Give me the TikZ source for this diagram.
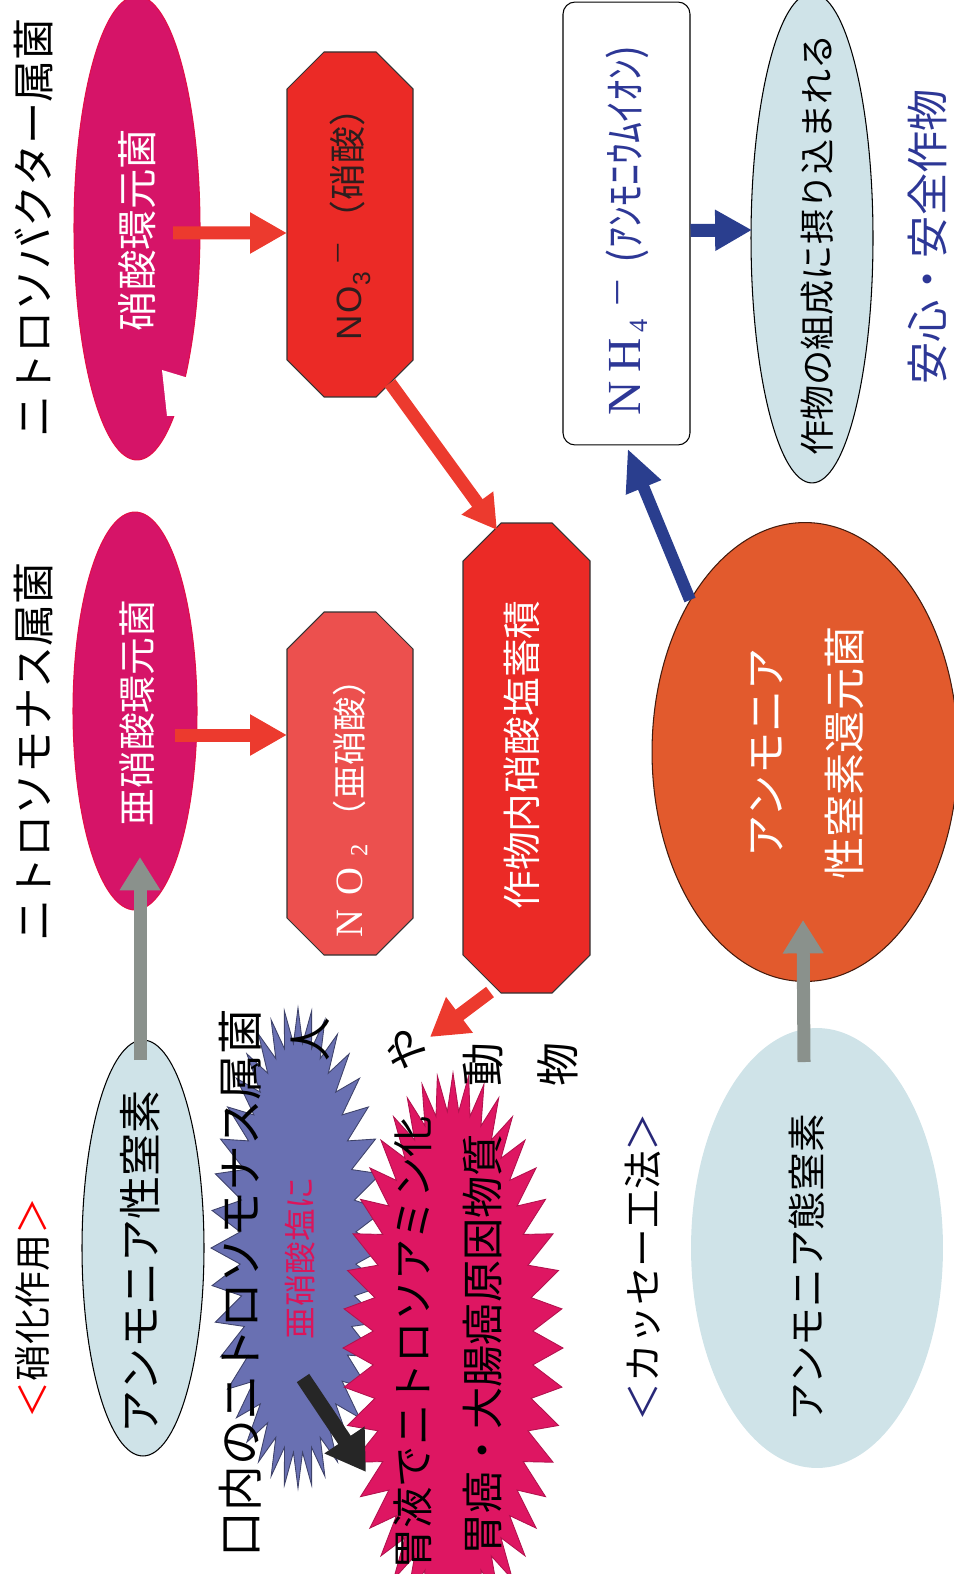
\documentclass[tikz,border=0pt]{standalone}
\usepackage{fontspec}
\setmainfont{Noto Sans CJK JP}
\newfontfamily\lsans{Liberation Sans}
\newfontfamily\lserif{Liberation Serif}
\usetikzlibrary{shapes.geometric,arrows.meta,calc}
\newcommand\fsz[1]{\fontsize{#1pt}{#1pt}\selectfont}
\definecolor{mag}{RGB}{214,20,104}
\definecolor{redbox}{RGB}{235,42,38}
\definecolor{nobox}{RGB}{236,80,78}
\definecolor{orangeE}{RGB}{226,90,45}
\definecolor{lblue}{RGB}{207,227,232}
\definecolor{burstblue}{RGB}{105,112,178}
\definecolor{burstmag}{RGB}{222,22,98}
\definecolor{arrred}{RGB}{236,58,46}
\definecolor{arrblue}{RGB}{42,62,142}
\definecolor{arrgray}{RGB}{138,145,140}
\definecolor{txtblue}{RGB}{45,55,150}
\definecolor{crimson}{RGB}{220,20,90}
\definecolor{navy}{RGB}{40,40,120}
\definecolor{darktxt}{RGB}{45,30,30}
\begin{document}
\begin{tikzpicture}[x=0.02cm,y=-0.02cm,
  rtext/.style={rotate=90,inner sep=0pt},
  ell/.style={ellipse,rotate=90,inner sep=0pt,line width=0.6pt},
  anchorbox/.style={rectangle,rotate=90,inner sep=0pt},
  oct/.style={line width=0.6pt,draw=black!80},
  arr/.style={line width=7.4pt,-{Triangle[length=21pt,width=22pt]}},
  redarr/.style={arr,draw=arrred},
  bluearr/.style={arr,draw=arrblue},
  grayarr/.style={line width=7.4pt,draw=arrgray,-{Triangle[length=19pt,width=22pt]}},
  blackarr/.style={line width=8.5pt,draw=black!85,-{Triangle[length=22pt,width=26pt]}},
]
\useasboundingbox (0,0) rectangle (953,1574);

% ---------- ellipses ----------
\node[ell,fill=mag,draw=mag!70!red,minimum width=9.28cm,minimum height=2.52cm] (enitrate) at (137,228) {};
\fill[white] (195,380) -- (162,370) -- (167,416) -- (185,416) -- cycle;
\node[ell,fill=mag,draw=mag!70!red,minimum width=7.96cm,minimum height=2.48cm] (enitrite) at (135,711) {};
\node[ell,fill=lblue,draw=black,minimum width=8.32cm,minimum height=2.44cm] (eamm) at (143,1248) {};
\node[ell,fill=lblue,minimum width=8.8cm,minimum height=5.04cm] (eammT) at (817,1248) {};
\node[ell,fill=orangeE,draw=black!70!orangeE,minimum width=9.18cm,minimum height=6.12cm] (eorange) at (805,752) {};
\node[ell,fill=lblue,draw=black,minimum width=9.8cm,minimum height=2.44cm] (ecrop) at (812,238) {};
\node[rectangle,rotate=90,draw=black,line width=0.6pt,fill=white,rounded corners=0.24cm,minimum width=8.86cm,minimum height=2.54cm] (nh4) at (626.5,223.5) {};

% ---------- octagon boxes ----------
\filldraw[oct,fill=redbox] (324,52) -- (376,52) -- (413,89) -- (413,360) -- (376,397) -- (324,397) -- (287,360) -- (287,89) -- cycle;
\node[anchorbox,minimum width=6.9cm,minimum height=2.52cm] (no3) at (350,224.5) {};
\filldraw[oct,fill=nobox] (324,612) -- (376,612) -- (413,649) -- (413,918) -- (376,955) -- (324,955) -- (287,918) -- (287,649) -- cycle;
\node[anchorbox,minimum width=6.86cm,minimum height=2.52cm] (no2) at (350,783.5) {};
\filldraw[oct,fill=redbox] (501,523) -- (552,523) -- (590,561) -- (590,955) -- (552,993) -- (501,993) -- (463,955) -- (463,561) -- cycle;
\node[anchorbox,minimum width=9.4cm,minimum height=2.54cm] (accum) at (526.5,758) {};

% ---------- starbursts ----------
\coordinate (bburst) at (298,1248);
\coordinate (mburst) at (453,1348);
\begin{scope}[shift={(298,1248)}]
\filldraw[fill=burstblue,draw=burstblue!60!black,line width=0.5pt]
  (87,0) \foreach \i in {1,...,40} { -- ({58*cos(\i*9-4.5)},{205*sin(\i*9-4.5)}) -- ({87*cos(\i*9)},{240*sin(\i*9)}) } -- cycle;
\end{scope}
\begin{scope}[shift={(453,1348)}]
\filldraw[fill=burstmag,draw=burstmag!80!black,line width=0.5pt]
  (110,0) \foreach \i in {1,...,44} { -- ({80*cos(\i*360/44-180/44)},{237*sin(\i*360/44-180/44)}) -- ({110*cos(\i*360/44)},{275*sin(\i*360/44)}) } -- cycle;
\end{scope}

% ---------- texts ----------
\node[rtext,font=\fsz{21}] (ttl1) at (33,1308) {\textcolor{red}{＜}硝化作用\textcolor{red}{＞}};
\node[rtext,font=\fsz{24}] (ttl3) at (33,752) {ニトロソモナス属菌};
\node[rtext,font=\fsz{24}] (ttl4) at (33,228) {ニトロソバクター属菌};
\node[rtext,font=\fsz{22}] (ttl2) at (643,1267) {\textcolor{navy}{＜}カッセー工法\textcolor{navy}{＞}};

\node[rtext,font=\fsz{23},text=white] (tnitrate) at (137,230) {硝酸環元菌};
\node[rtext,font=\fsz{21.5},text=white] (tnitrite) at (137,713) {亜硝酸環元菌};
\node[rtext,font=\fsz{24.5}] (tamm) at (140,1262) {アンモニア性窒素};
\node[rtext,font=\fsz{22}] (tammT) at (807,1268) {アンモニア態窒素};
\node[rtext,text=white,align=center,font={\fontsize{24pt}{45pt}\selectfont}] (torange) at (807,753) {アンモニア\\性窒素還元菌};
\node[rtext,font=\fsz{20}] (tcrop) at (817,245) {作物の組成に摂り込まれる};
\node[rtext,font=\fsz{24},text=txtblue] (tsafe) at (927,237) {安心・安全作物};
\node[rtext,text=txtblue] (tnh4) at (627,230) {{\lserif\fsz{27}N\hspace{5pt}H}\hspace{3pt}\raisebox{-4pt}{\lserif\fsz{15}4}\hspace{6pt}\raisebox{6pt}{\fsz{18}－}\hspace{8pt}{\fsz{24}(ｱﾝﾓﾆｳﾑｲｵﾝ)}};
\node[rtext,text=darktxt] (tno3) at (350,215) {{\lsans\fsz{20}N\hspace{1pt}O}\raisebox{-5pt}{\lsans\fsz{14}3}\hspace{4pt}\raisebox{8pt}{\fsz{14}－}\hspace{2pt}{\fsz{21}（硝酸）}};
\node[rtext,text=white] (tno2) at (350,800) {{\lserif\fsz{22}N\hspace{8pt}O}\hspace{6pt}\raisebox{-3pt}{\lserif\fsz{14}2}\hspace{6pt}{\fsz{19.5}（亜硝酸）}};
\node[rtext,font=\fsz{22},text=white] (taccum) at (522,755) {作物内硝酸塩蓄積};

\node[rtext,font=\fsz{26}] (tmouth) at (240,1283) {口内のニトロソモナス属菌};
\node[rtext,font=\fsz{18.5},text=crimson] (tnitr) at (300,1258) {亜硝酸塩に};
\node[rtext,font=\fsz{23.5}] (tstom) at (413,1343) {胃液でニトロソアミン化};
\node[rtext,font=\fsz{24}] (tcanc) at (483,1345) {胃癌・大腸癌原因物質};
\node[rtext,font=\fsz{25}] (hito) at (310,1040) {人};
\node[rtext,font=\fsz{25}] (ya) at (407,1050) {や};
\node[rtext,font=\fsz{25}] (dou) at (483,1065) {動};
\node[rtext,font=\fsz{25}] (butsu) at (558,1065) {物};

% ---------- arrows ----------
\draw[grayarr] ($(eamm.center)+(-3,-188)$) -- ($(enitrite.center)+(5,146)$);
\draw[grayarr] ($(eammT.center)+(-13,-186)$) -- ($(eorange.center)+(-2,168)$);
\draw[redarr] ($(enitrate.center)+(36,5)$) -- ($(no3.center)+(-63,8.5)$);
\draw[redarr] ($(enitrite.center)+(40,24)$) -- ($(no2.center)+(-63,-48.5)$);
\draw[redarr,-{Triangle[length=19pt,width=21pt]}] ($(no3.center)+(40,158.5)$) -- ($(accum.center)+(-29.5,-228)$);
\draw[redarr,-{Triangle[length=21pt,width=24pt]}] ($(accum.center)+(-36.5,234)$) -- ($(ya.center)+(23,-13)$);
\draw[bluearr,line width=6.8pt,-{Triangle[length=24pt,width=20pt]}] ($(eorange.center)+(-115,-152)$) -- ($(nh4.center)+(1,225)$);
\draw[bluearr] ($(nh4.center)+(64,7)$) -- ($(ecrop.center)+(-60,-8)$);
\draw[blackarr] ($(bburst)+(5,130)$) -- ($(bburst)+(68,224)$);
\end{tikzpicture}
\end{document}
